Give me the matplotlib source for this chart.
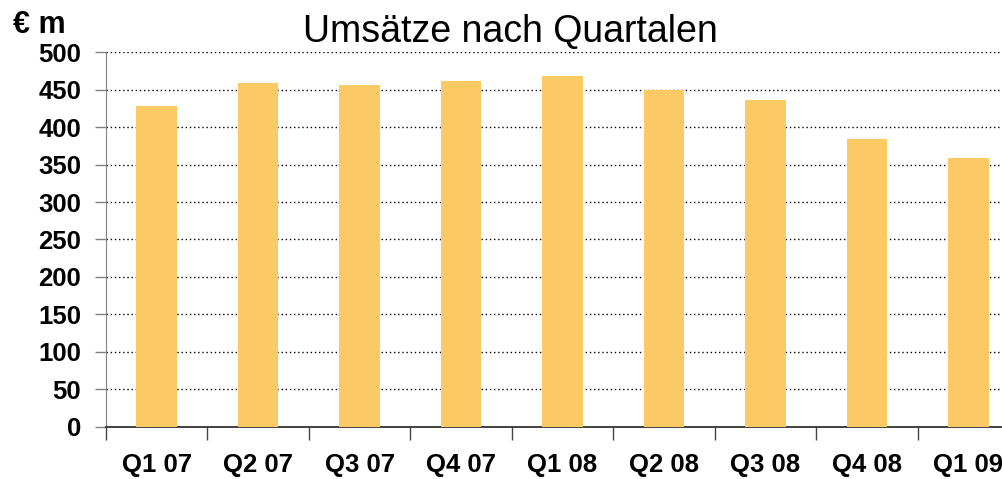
import numpy as np
import matplotlib
matplotlib.use('Agg')
import matplotlib.pyplot as plt

quarters = ['Q1 07', 'Q2 07', 'Q3 07', 'Q4 07', 'Q1 08', 'Q2 08', 'Q3 08', 'Q4 08', 'Q1 09']
umsatz = [428, 459, 456, 461, 468, 449, 436, 384, 359]
y_ticks = [0, 50, 100, 150, 200, 250, 300, 350, 400, 450, 500]

plt.rcParams['font.family'] = ['Liberation Sans', 'DejaVu Sans']

fig = plt.figure(figsize=(10.03, 4.79), dpi=100)
ax = fig.add_axes([0.1057, 0.1086, 0.9103, 0.7828])

x = np.arange(len(quarters))
ax.bar(x, umsatz, width=0.4, color='#FCCA64', zorder=3)

ax.set_xlim(-0.5, len(quarters) - 0.5)
ax.set_ylim(0, 500)
ax.set_yticks(y_ticks)
ax.set_yticklabels([str(v) for v in y_ticks], fontsize=18.5, fontweight='bold')
ax.yaxis.grid(True, linestyle=(0, (1, 2)), color='black', linewidth=1.0, zorder=1)

ax.set_xticks(x)
ax.set_xticklabels(quarters, fontsize=18.5, fontweight='bold')
ax.set_xticks(np.arange(-0.5, len(quarters)), minor=True)
ax.tick_params(axis='x', which='major', length=0, pad=19)
ax.tick_params(axis='x', which='minor', length=9, width=1, color='#444444', direction='out')
ax.tick_params(axis='y', length=8, width=1, color='#808080', pad=10)

for side in ['top', 'right']:
    ax.spines[side].set_visible(False)
ax.spines['left'].set_color('#808080')
ax.spines['bottom'].set_color('#333333')
ax.spines['bottom'].set_linewidth(1.3)

fig.text(0.509, 0.934, 'Umsätze nach Quartalen', fontsize=27, ha='center', va='center')
fig.text(0.013, 0.948, '€ m', fontsize=22, fontweight='bold', ha='left', va='center')

fig.savefig('out.png', dpi=100)
plt.close(fig)
